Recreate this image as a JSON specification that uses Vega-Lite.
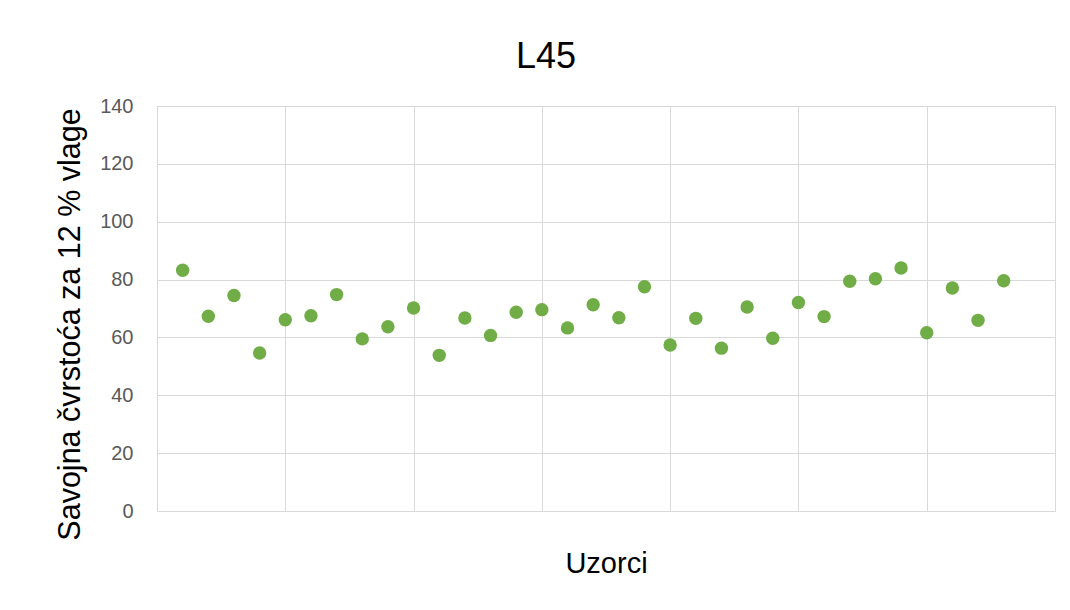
{
  "$schema": "https://vega.github.io/schema/vega-lite/v6.json",
  "width": 898,
  "height": 405,
  "autosize": {"type": "none"},
  "padding": {"left": 157, "top": 106, "right": 15, "bottom": 99},
  "background": "white",
  "config": {
    "font": "Liberation Sans",
    "view": {"stroke": "#d9d9d9", "strokeWidth": 1}
  },
  "title": {
    "text": "L45",
    "fontSize": 36,
    "fontWeight": "normal",
    "color": "#000000",
    "font": "Liberation Sans",
    "anchor": "middle",
    "baseline": "alphabetic",
    "offset": -8,
    "dx": -60
  },
  "data": {
    "values": [
      {"uzorak": 1, "cvrstoca": 83.2},
      {"uzorak": 2, "cvrstoca": 67.3},
      {"uzorak": 3, "cvrstoca": 74.5},
      {"uzorak": 4, "cvrstoca": 54.6},
      {"uzorak": 5, "cvrstoca": 66.1},
      {"uzorak": 6, "cvrstoca": 67.5},
      {"uzorak": 7, "cvrstoca": 74.8},
      {"uzorak": 8, "cvrstoca": 59.5},
      {"uzorak": 9, "cvrstoca": 63.7},
      {"uzorak": 10, "cvrstoca": 70.2},
      {"uzorak": 11, "cvrstoca": 53.8},
      {"uzorak": 12, "cvrstoca": 66.7},
      {"uzorak": 13, "cvrstoca": 60.7},
      {"uzorak": 14, "cvrstoca": 68.7},
      {"uzorak": 15, "cvrstoca": 69.6},
      {"uzorak": 16, "cvrstoca": 63.3},
      {"uzorak": 17, "cvrstoca": 71.3},
      {"uzorak": 18, "cvrstoca": 66.8},
      {"uzorak": 19, "cvrstoca": 77.5},
      {"uzorak": 20, "cvrstoca": 57.4},
      {"uzorak": 21, "cvrstoca": 66.6},
      {"uzorak": 22, "cvrstoca": 56.3},
      {"uzorak": 23, "cvrstoca": 70.5},
      {"uzorak": 24, "cvrstoca": 59.7},
      {"uzorak": 25, "cvrstoca": 72.1},
      {"uzorak": 26, "cvrstoca": 67.2},
      {"uzorak": 27, "cvrstoca": 79.4},
      {"uzorak": 28, "cvrstoca": 80.3},
      {"uzorak": 29, "cvrstoca": 84.0},
      {"uzorak": 30, "cvrstoca": 61.6},
      {"uzorak": 31, "cvrstoca": 77.1},
      {"uzorak": 32, "cvrstoca": 65.9},
      {"uzorak": 33, "cvrstoca": 79.6}
    ]
  },
  "mark": {"type": "circle", "size": 180, "color": "#70ad47", "opacity": 1},
  "encoding": {
    "x": {
      "field": "uzorak",
      "type": "quantitative",
      "scale": {"domain": [0, 35], "nice": false, "zero": false},
      "axis": {
        "title": "Uzorci",
        "titleFontSize": 29,
        "titleFontWeight": "normal",
        "titleColor": "#000000",
        "titlePadding": 38,
        "labels": false,
        "ticks": false,
        "domain": false,
        "values": [0, 5, 10, 15, 20, 25, 30, 35],
        "grid": true,
        "gridColor": "#d9d9d9",
        "gridWidth": 1
      }
    },
    "y": {
      "field": "cvrstoca",
      "type": "quantitative",
      "scale": {"domain": [0, 140], "nice": false},
      "axis": {
        "title": "Savojna čvrstoća za 12 % vlage",
        "titleFontSize": 30.5,
        "titleFontWeight": "normal",
        "titleColor": "#000000",
        "titlePadding": 14,
        "titleY": 218,
        "labelFontSize": 20,
        "labelColor": "#595959",
        "labelPadding": 24,
        "ticks": false,
        "domain": false,
        "values": [0, 20, 40, 60, 80, 100, 120, 140],
        "grid": true,
        "gridColor": "#d9d9d9",
        "gridWidth": 1
      }
    }
  }
}
